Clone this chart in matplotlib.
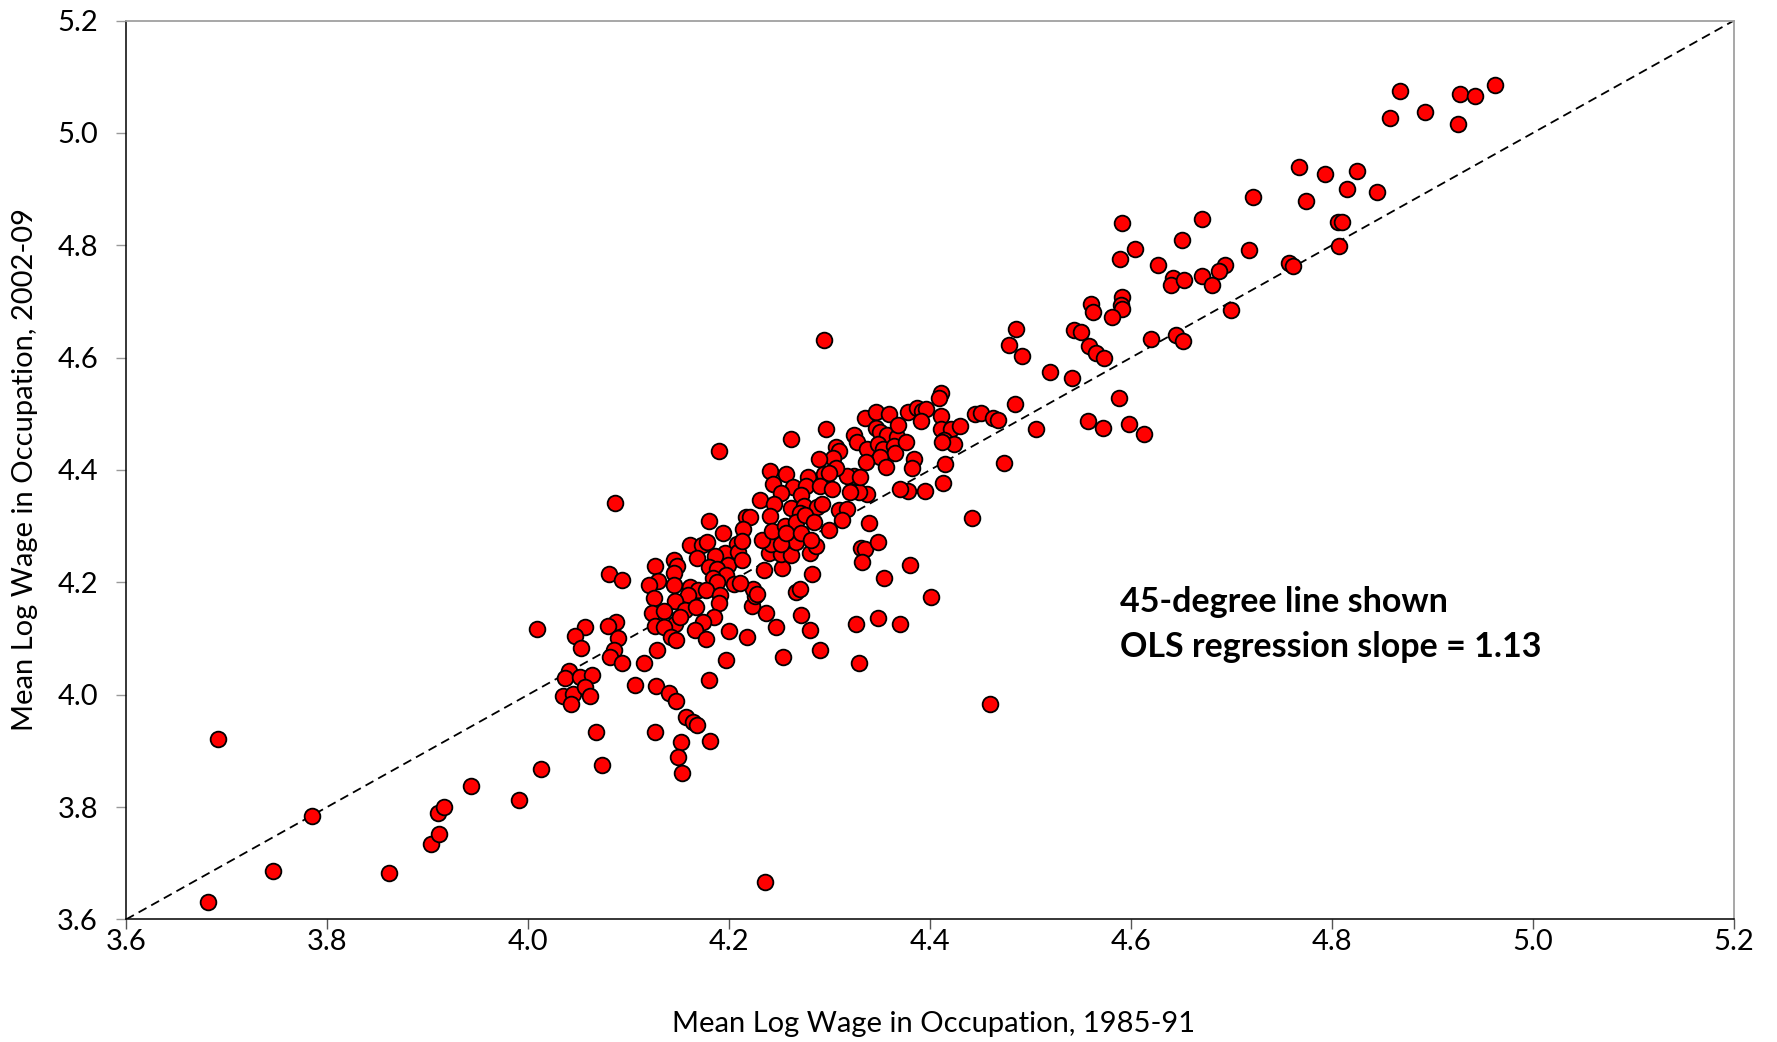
import matplotlib
matplotlib.use("Agg")
import matplotlib.pyplot as plt

# Mean log wage by occupation, 1985-91 (x) vs 2002-09 (y)
x_1985_91 = [
    3.682, 3.692, 3.746, 3.785, 3.862, 3.903, 3.911, 3.910, 3.916, 3.943,
    3.991, 4.013, 4.009, 4.087, 4.190, 4.295, 4.236, 4.460,
    4.161, 4.173, 4.208, 4.196, 4.209, 4.168, 4.186, 4.145, 4.126, 4.148,
    4.180, 4.199, 4.145, 4.188, 4.197, 4.184, 4.129, 4.120, 4.145, 4.188,
    4.205, 4.081, 4.094, 4.161, 4.169, 4.159, 4.177, 4.125, 4.191, 4.190,
    4.146, 4.156, 4.167, 4.123, 4.135, 4.185, 4.174, 4.146, 4.126, 4.135,
    4.151, 4.166, 4.142, 4.147, 4.177, 4.200, 4.218, 4.088, 4.080, 4.057,
    4.047, 4.090, 4.053, 4.086, 4.082, 4.094, 4.115, 4.128, 4.041, 4.037,
    4.052, 4.064, 4.035, 4.045, 4.043, 4.057, 4.062, 4.106, 4.127, 4.140,
    4.147, 4.180, 4.197, 4.157, 4.164, 4.168, 4.068, 4.126, 4.152, 4.181,
    4.149, 4.153, 4.074,
    4.331, 4.335, 4.348, 4.332, 4.380, 4.354, 4.401, 4.326, 4.348, 4.370,
    4.329, 4.247, 4.237, 4.272, 4.281, 4.291, 4.254, 4.267, 4.271, 4.283,
    4.223, 4.226, 4.224, 4.228, 4.235, 4.253, 4.240, 4.252, 4.262, 4.281,
    4.287, 4.242, 4.267, 4.211,
    4.180, 4.217, 4.221, 4.214, 4.194, 4.178, 4.231, 4.233, 4.252, 4.213,
    4.262, 4.297, 4.335, 4.346, 4.359, 4.378, 4.387, 4.392, 4.396, 4.391,
    4.411, 4.409, 4.411, 4.411, 4.421, 4.430, 4.414, 4.424, 4.445, 4.451,
    4.346, 4.350, 4.324, 4.327, 4.337, 4.357, 4.367, 4.368, 4.348, 4.353,
    4.364, 4.365, 4.376, 4.350, 4.336, 4.356, 4.384, 4.382, 4.412, 4.415,
    4.413, 4.395, 4.378, 4.370, 4.442, 4.337, 4.329, 4.320, 4.324, 4.317,
    4.330, 4.306, 4.309, 4.303, 4.290, 4.306, 4.295, 4.300, 4.241, 4.257,
    4.279, 4.244, 4.264, 4.277, 4.291, 4.302, 4.252, 4.272, 4.245, 4.262,
    4.275, 4.288, 4.293, 4.241, 4.271, 4.309, 4.317, 4.312, 4.243, 4.256,
    4.267, 4.276, 4.285, 4.300, 4.339, 4.213, 4.257, 4.272, 4.282,
    4.560, 4.562, 4.591, 4.590, 4.591, 4.581, 4.700, 4.486, 4.543, 4.550,
    4.479, 4.492, 4.558, 4.565, 4.573, 4.620, 4.645, 4.652, 4.519, 4.541,
    4.485, 4.463, 4.468, 4.505, 4.557, 4.572, 4.588, 4.598, 4.613, 4.474,
    4.767, 4.793, 4.721, 4.774, 4.591, 4.671, 4.651, 4.604, 4.589, 4.627,
    4.717, 4.757, 4.761, 4.694, 4.688, 4.642, 4.640, 4.653, 4.671, 4.681,
    4.868, 4.927, 4.942, 4.962, 4.858, 4.893, 4.925, 4.825, 4.815, 4.845,
    4.806, 4.810, 4.807,
]
y_2002_09 = [
    3.631, 3.922, 3.686, 3.785, 3.682, 3.735, 3.752, 3.790, 3.800, 3.837,
    3.813, 3.867, 4.117, 4.341, 4.434, 4.631, 3.666, 3.983,
    4.266, 4.266, 4.268, 4.252, 4.254, 4.244, 4.247, 4.240, 4.229, 4.229,
    4.228, 4.231, 4.216, 4.223, 4.213, 4.207, 4.203, 4.195, 4.195, 4.200,
    4.197, 4.214, 4.205, 4.192, 4.186, 4.177, 4.186, 4.173, 4.177, 4.164,
    4.166, 4.151, 4.157, 4.145, 4.149, 4.139, 4.130, 4.126, 4.122, 4.120,
    4.139, 4.115, 4.103, 4.097, 4.100, 4.114, 4.103, 4.130, 4.123, 4.121,
    4.105, 4.101, 4.084, 4.080, 4.067, 4.056, 4.056, 4.080, 4.043, 4.030,
    4.032, 4.036, 3.998, 4.001, 3.983, 4.014, 3.998, 4.018, 4.016, 4.003,
    3.989, 4.026, 4.062, 3.961, 3.952, 3.946, 3.934, 3.934, 3.916, 3.917,
    3.889, 3.861, 3.875,
    4.262, 4.260, 4.272, 4.236, 4.231, 4.207, 4.174, 4.125, 4.136, 4.125,
    4.056, 4.120, 4.146, 4.142, 4.116, 4.080, 4.067, 4.182, 4.188, 4.215,
    4.158, 4.176, 4.188, 4.180, 4.222, 4.225, 4.253, 4.250, 4.249, 4.253,
    4.265, 4.269, 4.272, 4.199,
    4.310, 4.317, 4.316, 4.295, 4.287, 4.272, 4.347, 4.275, 4.269, 4.240,
    4.456, 4.473, 4.492, 4.504, 4.499, 4.504, 4.511, 4.505, 4.508, 4.488,
    4.537, 4.528, 4.496, 4.473, 4.473, 4.478, 4.453, 4.446, 4.499, 4.502,
    4.474, 4.468, 4.462, 4.450, 4.437, 4.462, 4.459, 4.480, 4.447, 4.437,
    4.443, 4.430, 4.449, 4.423, 4.415, 4.406, 4.419, 4.403, 4.449, 4.410,
    4.377, 4.362, 4.363, 4.366, 4.315, 4.357, 4.361, 4.361, 4.389, 4.390,
    4.388, 4.441, 4.434, 4.422, 4.419, 4.403, 4.393, 4.394, 4.399, 4.393,
    4.388, 4.375, 4.370, 4.371, 4.372, 4.367, 4.359, 4.355, 4.339, 4.332,
    4.336, 4.334, 4.339, 4.318, 4.324, 4.329, 4.330, 4.311, 4.292, 4.300,
    4.307, 4.320, 4.308, 4.294, 4.306, 4.274, 4.287, 4.287, 4.275,
    4.696, 4.682, 4.708, 4.693, 4.686, 4.673, 4.685, 4.651, 4.649, 4.646,
    4.623, 4.603, 4.621, 4.609, 4.599, 4.634, 4.641, 4.629, 4.575, 4.564,
    4.517, 4.492, 4.489, 4.473, 4.488, 4.475, 4.528, 4.482, 4.464, 4.413,
    4.940, 4.926, 4.886, 4.878, 4.840, 4.847, 4.810, 4.794, 4.775, 4.765,
    4.792, 4.768, 4.763, 4.764, 4.755, 4.742, 4.730, 4.738, 4.745, 4.729,
    5.074, 5.070, 5.066, 5.085, 5.027, 5.037, 5.016, 4.932, 4.901, 4.894,
    4.841, 4.841, 4.798,
]

axis_limits = [3.6, 5.2]
tick_values = [3.6, 3.8, 4.0, 4.2, 4.4, 4.6, 4.8, 5.0, 5.2]
tick_labels = ["3.6", "3.8", "4.0", "4.2", "4.4", "4.6", "4.8", "5.0", "5.2"]
x_label = "Mean Log Wage in Occupation, 1985-91"
y_label = "Mean Log Wage in Occupation, 2002-09"
note_lines = ["45-degree line shown", "OLS regression slope = 1.13"]

plt.rcParams["font.family"] = ["Lato", "DejaVu Sans"]

fig = plt.figure(figsize=(17.77, 10.42), dpi=100)
ax = fig.add_axes([0.0709, 0.1176, 0.9049, 0.8627])

# 45-degree line
ax.plot(axis_limits, axis_limits, color="black", lw=1.3,
        linestyle=(0, (5, 3)), zorder=2)

ax.scatter(x_1985_91, y_2002_09, s=128, facecolor="#ff0000",
           edgecolor="black", linewidths=1.3, zorder=3, clip_on=False)

ax.set_xlim(axis_limits)
ax.set_ylim(axis_limits)
ax.set_xticks(tick_values)
ax.set_xticklabels(tick_labels)
ax.set_yticks(tick_values)
ax.set_yticklabels(tick_labels)

ax.tick_params(axis="x", direction="out", length=7.2, width=1.0,
               color="#555555", labelsize=21, pad=0)
ax.tick_params(axis="y", direction="out", length=7.2, width=1.0,
               color="#999999", labelsize=21, pad=13)

for side in ["left", "bottom"]:
    ax.spines[side].set_color("black")
    ax.spines[side].set_linewidth(1.1)
for side in ["top", "right"]:
    ax.spines[side].set_color("#a0a0a0")
    ax.spines[side].set_linewidth(1.3)

ax.set_xlabel(x_label, fontsize=21)
ax.set_ylabel(y_label, fontsize=21)
ax.xaxis.set_label_coords(0.502, -0.102)
ax.yaxis.set_label_coords(-0.055, 0.5)

ax.text(4.589, 4.165, note_lines[0], fontsize=24.5, fontweight="bold",
        va="center", ha="left")
ax.text(4.589, 4.085, note_lines[1], fontsize=24.5, fontweight="bold",
        va="center", ha="left")

fig.savefig("out.png", dpi=100)
